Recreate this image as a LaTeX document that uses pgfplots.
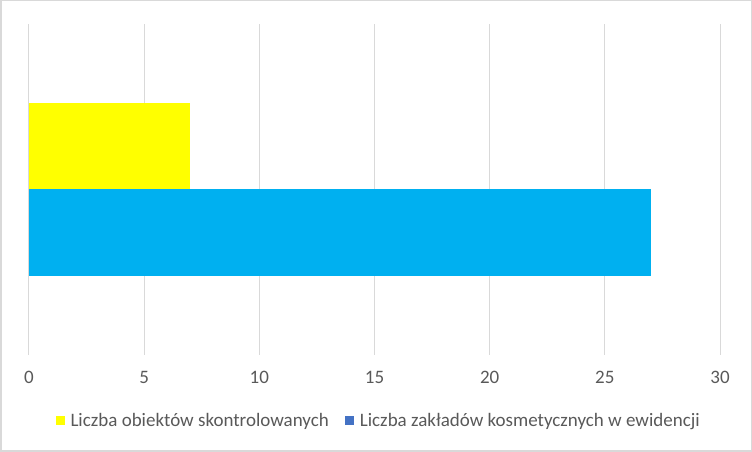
\documentclass[border=0pt]{standalone}
\usepackage{fontspec}
\setmainfont{Carlito}
\usepackage{pgfplots}
\pgfplotsset{compat=1.18}
\definecolor{gridgray}{HTML}{D9D9D9}
\definecolor{txtgray}{HTML}{595959}
\definecolor{barblue}{HTML}{00B0F0}
\definecolor{keyblue}{HTML}{4472C4}
\definecolor{baryellow}{HTML}{FFFF00}

\begin{document}
\begin{tikzpicture}
\useasboundingbox (0,0) rectangle (752pt,452pt);
\draw[gridgray, line width=1.5pt] (0.75pt,0.75pt) rectangle (751.25pt,451.25pt);
\begin{axis}[
  at={(29pt,97pt)}, anchor=south west,
  scale only axis, width=691pt, height=331pt,
  xmin=0, xmax=30, xtick={0,5,...,30},
  ymin=-1, ymax=1, ytick=\empty,
  axis line style={draw=none},
  major tick length=0pt,
  xmajorgrids, grid style={gridgray, line width=1pt},
  tick label style={font=\fontsize{19}{22}\selectfont, text=txtgray},
  xticklabel style={yshift=-13pt},
  /pgf/number format/assume math mode=true,
  legend columns=2,
  legend style={draw=none, fill=none, at={(0.506,-0.199)}, anchor=center,
    font=\fontsize{19}{22}\selectfont, text=txtgray,
    /tikz/every odd column/.append style={column sep=4pt},
    /tikz/every even column/.append style={column sep=14pt}},
]
\addplot[xbar, bar width=0.52, bar shift=0pt, fill=baryellow, draw=none,
  legend image code/.code={\fill[baryellow] (0pt,-4.5pt) rectangle (9pt,4.5pt);}]
  coordinates {(7,0.26)};
\addlegendentry{Liczba obiektów skontrolowanych}
\addplot[xbar, bar width=0.52, bar shift=0pt, fill=barblue, draw=none,
  legend image code/.code={\fill[keyblue] (0pt,-4.5pt) rectangle (9pt,4.5pt);}]
  coordinates {(27,-0.26)};
\addlegendentry{Liczba zakładów kosmetycznych w ewidencji}
\end{axis}
\end{tikzpicture}
\end{document}
